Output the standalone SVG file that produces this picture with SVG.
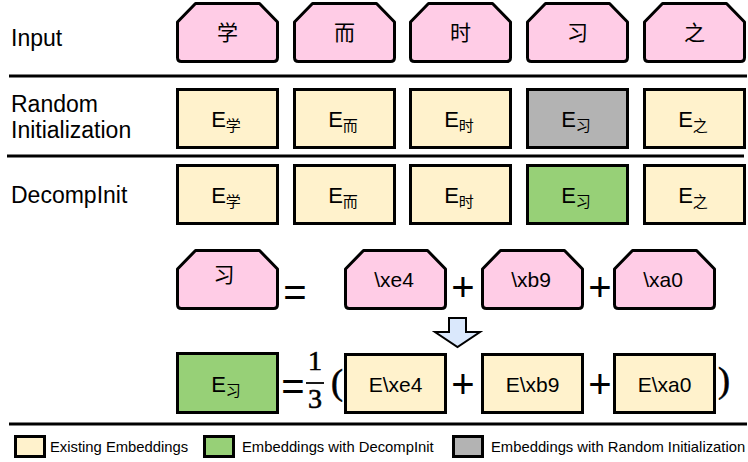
<svg xmlns="http://www.w3.org/2000/svg" width="748" height="462" viewBox="0 0 748 462">
  <defs>
    <style>
      .label { font-family: "Liberation Sans", Arial, sans-serif; font-size: 23px; fill: #000; }
      .cjk { font-family: "Noto Sans CJK SC", sans-serif; font-size: 21px; fill: #000; text-anchor: middle; }
      .emb { font-family: "Liberation Sans", Arial, sans-serif; font-size: 22px; fill: #000; text-anchor: middle; }
      .sub { font-family: "Noto Sans CJK SC", sans-serif; font-size: 15px; }
      .byte { font-family: "Liberation Sans", Arial, sans-serif; font-size: 21px; fill: #000; text-anchor: middle; }
      .op { font-family: "Liberation Sans", Arial, sans-serif; font-size: 40px; fill: #000; text-anchor: middle; }
      .math { font-family: "Liberation Serif", "Times New Roman", serif; fill: #000; stroke: #000; stroke-width: 0.6; text-anchor: middle; }
      .legend { font-family: "Liberation Sans", Arial, sans-serif; font-size: 14.8px; fill: #000; }
      .char { fill: #ffcce6; stroke: #000; stroke-width: 3; stroke-linejoin: round; }
      .exist { fill: #fff2cc; stroke: #000; stroke-width: 3; }
      .decomp { fill: #97d077; stroke: #000; stroke-width: 3; }
      .rand { fill: #b3b3b3; stroke: #000; stroke-width: 3; }
      .rule { stroke: #000; stroke-width: 3; }
    </style>
    <!-- character token: cut top corners, rounded bottom corners -->
    <path id="tok" d="M0,18.5 L18,0 L82,0 L100,18.5 L100,54 Q100,58 96,58 L4,58 Q0,58 0,54 Z"/>
  </defs>

  <!-- row labels -->
  <g id="row-labels">
    <text class="label" x="11" y="46">Input</text>
    <text class="label" x="11" y="112">Random</text>
    <text class="label" x="11" y="138">Initialization</text>
    <text class="label" x="11" y="203">DecompInit</text>
  </g>

  <!-- separators -->
  <g id="rules">
    <line class="rule" x1="9" y1="76" x2="747" y2="76"/>
    <line class="rule" x1="7" y1="156" x2="744" y2="156"/>
    <line class="rule" x1="9" y1="424" x2="747" y2="424"/>
  </g>

  <!-- input characters -->
  <g id="input-xue"><use href="#tok" class="char" x="177.5" y="3.5"/><text class="cjk" x="227.5" y="40">学</text></g>
  <g id="input-er"><use href="#tok" class="char" x="294.5" y="3.5"/><text class="cjk" x="344.5" y="40">而</text></g>
  <g id="input-shi"><use href="#tok" class="char" x="410.5" y="3.5"/><text class="cjk" x="460.5" y="40">时</text></g>
  <g id="input-xi"><use href="#tok" class="char" x="527.5" y="3.5"/><text class="cjk" x="577.5" y="40">习</text></g>
  <g id="input-zhi"><use href="#tok" class="char" x="644.5" y="3.5"/><text class="cjk" x="694.5" y="40">之</text></g>

  <!-- random initialization row -->
  <g id="rand-xue"><rect class="exist" x="177.5" y="89.5" width="100" height="58"/><text class="emb" x="226" y="127">E<tspan class="sub" dy="4">学</tspan></text></g>
  <g id="rand-er"><rect class="exist" x="294.5" y="89.5" width="100" height="58"/><text class="emb" x="343" y="127">E<tspan class="sub" dy="4">而</tspan></text></g>
  <g id="rand-shi"><rect class="exist" x="410.5" y="89.5" width="100" height="58"/><text class="emb" x="459" y="127">E<tspan class="sub" dy="4">时</tspan></text></g>
  <g id="rand-xi"><rect class="rand" x="527.5" y="89.5" width="100" height="58"/><text class="emb" x="576" y="127">E<tspan class="sub" dy="4">习</tspan></text></g>
  <g id="rand-zhi"><rect class="exist" x="644.5" y="89.5" width="100" height="58"/><text class="emb" x="693" y="127">E<tspan class="sub" dy="4">之</tspan></text></g>

  <!-- DecompInit row -->
  <g id="dec-xue"><rect class="exist" x="177.5" y="165.5" width="100" height="58"/><text class="emb" x="226" y="203">E<tspan class="sub" dy="4">学</tspan></text></g>
  <g id="dec-er"><rect class="exist" x="294.5" y="165.5" width="100" height="58"/><text class="emb" x="343" y="203">E<tspan class="sub" dy="4">而</tspan></text></g>
  <g id="dec-shi"><rect class="exist" x="410.5" y="165.5" width="100" height="58"/><text class="emb" x="459" y="203">E<tspan class="sub" dy="4">时</tspan></text></g>
  <g id="dec-xi"><rect class="decomp" x="527.5" y="165.5" width="100" height="58"/><text class="emb" x="576" y="203">E<tspan class="sub" dy="4">习</tspan></text></g>
  <g id="dec-zhi"><rect class="exist" x="644.5" y="165.5" width="100" height="58"/><text class="emb" x="693" y="203">E<tspan class="sub" dy="4">之</tspan></text></g>

  <!-- byte decomposition of 习 -->
  <g id="xi-char"><use href="#tok" class="char" x="177.5" y="250.5"/><text class="cjk" x="224" y="282">习</text></g>
  <g id="byte-e4"><use href="#tok" class="char" x="345.5" y="250.5"/><text class="byte" x="394" y="287">\xe4</text></g>
  <g id="byte-b9"><use href="#tok" class="char" x="482.5" y="250.5"/><text class="byte" x="531" y="287">\xb9</text></g>
  <g id="byte-a0"><use href="#tok" class="char" x="614.5" y="250.5"/><text class="byte" x="663" y="287">\xa0</text></g>
  <g id="byte-ops">
    <text class="op" x="295" y="306">=</text>
    <text class="op" x="463" y="301">+</text>
    <text class="op" x="600" y="301">+</text>
  </g>

  <!-- down arrow -->
  <g id="connectors">
    <path d="M449,318 L466,318 L466,332 L480,332 L457.5,347 L435,332 L449,332 Z" fill="#dae8fc" stroke="#000" stroke-width="2" stroke-linejoin="miter"/>
  </g>

  <!-- averaged embedding -->
  <g id="avg-xi"><rect class="decomp" x="177.5" y="353.5" width="100" height="59"/><text class="emb" x="226" y="392">E<tspan class="sub" dy="4">习</tspan></text></g>
  <g id="avg-formula">
    <text class="op" x="293" y="400">=</text>
    <text class="math" x="315" y="370" font-size="28">1</text>
    <line x1="306" y1="383" x2="324" y2="383" stroke="#000" stroke-width="1.8"/>
    <text class="math" x="315" y="408" font-size="28">3</text>
    <text class="math" x="337" y="394" font-size="36" stroke-width="0.3">(</text>
    <text class="math" x="724" y="392" font-size="36" stroke-width="0.3">)</text>
    <text class="op" x="463" y="398">+</text>
    <text class="op" x="600" y="398">+</text>
  </g>
  <g id="emb-e4"><rect class="exist" x="345.5" y="354.5" width="100" height="58"/><text class="byte" x="395.5" y="392">E\xe4</text></g>
  <g id="emb-b9"><rect class="exist" x="482.5" y="354.5" width="100" height="58"/><text class="byte" x="532.5" y="392">E\xb9</text></g>
  <g id="emb-a0"><rect class="exist" x="614.5" y="354.5" width="100" height="58"/><text class="byte" x="664.5" y="392">E\xa0</text></g>

  <!-- legend -->
  <g id="legend">
    <rect class="exist" x="15.5" y="436.5" width="29" height="20"/>
    <text class="legend" x="50" y="452">Existing Embeddings</text>
    <rect class="decomp" x="204.5" y="436.5" width="29" height="20"/>
    <text class="legend" x="242" y="452">Embeddings with DecompInit</text>
    <rect class="rand" x="453.5" y="436.5" width="29" height="20"/>
    <text class="legend" x="491" y="452">Embeddings with Random Initialization</text>
  </g>
</svg>
